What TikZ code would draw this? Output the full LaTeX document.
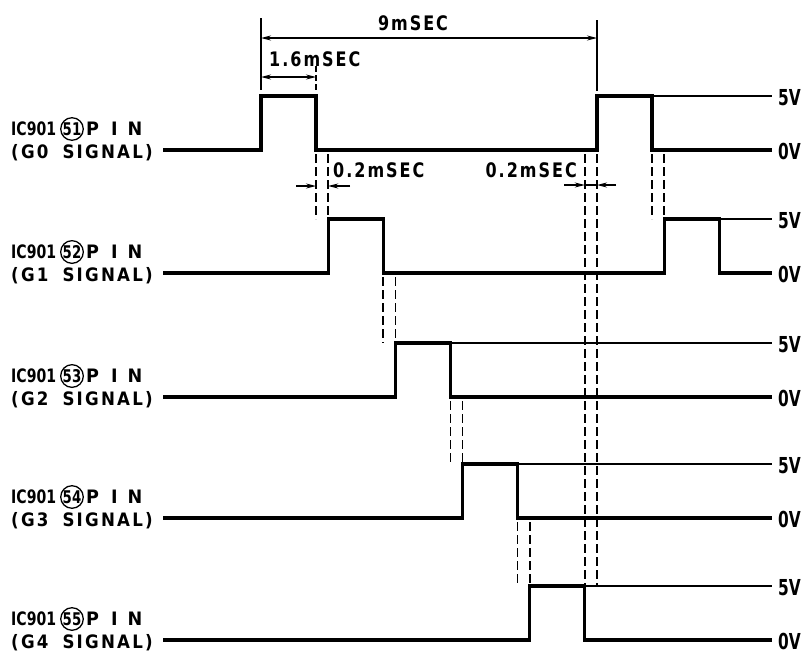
\documentclass[tikz,border=0pt]{standalone}
\usepackage{fontspec}
\setmainfont{DejaVu Sans}
\newfontfamily\lblfont[FakeStretch=0.9,LetterSpace=12]{DejaVu Sans Bold}
\newfontfamily\dimfont[FakeStretch=0.8,LetterSpace=10]{DejaVu Sans Bold}
\newfontfamily\icfont[FakeStretch=0.76]{DejaVu Sans Bold}
\newfontfamily\pinfont[FakeStretch=0.95]{DejaVu Sans Bold}
\newfontfamily\voltfont[FakeStretch=0.7]{DejaVu Sans Bold}
\usetikzlibrary{arrows.meta}
\begin{document}
\begin{tikzpicture}[x=1pt,y=-1pt,
  wave/.style={line width=3.2pt, line join=miter},
  reflevel/.style={line width=1.2pt},
  guide/.style={line width=1.5pt, dash pattern=on 9pt off 4pt},
  extline/.style={line width=1.3pt},
  dimarrow/.style={line width=1.3pt, {Stealth[length=10pt,width=5pt]}-{Stealth[length=10pt,width=5pt]}},
  onearrow/.style={line width=1.3pt, -{Stealth[length=10pt,width=5pt]}},
  txt/.style={font=\dimfont\fontsize{20}{22}\selectfont, inner sep=0pt},
  sigtxt/.style={font=\lblfont\fontsize{18.5}{20}\selectfont, inner sep=0pt, anchor=west},
  ictxt/.style={font=\icfont\fontsize{18.5}{20}\selectfont, inner sep=0pt, anchor=west},
  pintxt/.style={font=\pinfont\fontsize{18.5}{20}\selectfont, inner sep=0pt, anchor=west},
  pinc/.style={circle, draw, line width=1.3pt, minimum size=22pt, inner sep=0pt,
    font=\icfont\fontsize{17.5}{17.5}\selectfont},
  volt/.style={font=\voltfont\fontsize{22}{24}\selectfont, inner sep=0pt, anchor=west}
]
\useasboundingbox (0,0) rectangle (811,664);

% ---------- waveforms ----------
% G0
\draw[wave] (163,150) -- (261,150) -- (261,96) -- (316,96) -- (316,150)
  -- (597,150) -- (597,96) -- (652,96) -- (652,150) -- (772,150);
\draw[reflevel] (652,96) -- (772,96);
% G1
\draw[wave] (163,273) -- (328.2,273) -- (328.2,219) -- (383.2,219) -- (383.2,273)
  -- (664.2,273) -- (664.2,219) -- (719.2,219) -- (719.2,273) -- (772,273);
\draw[reflevel] (719.2,219) -- (772,219);
% G2
\draw[wave] (163,397) -- (395.4,397) -- (395.4,343) -- (450.4,343) -- (450.4,397) -- (772,397);
\draw[reflevel] (450.4,343) -- (772,343);
% G3
\draw[wave] (163,518) -- (462.6,518) -- (462.6,464) -- (517.6,464) -- (517.6,518) -- (772,518);
\draw[reflevel] (517.6,464) -- (772,464);
% G4
\draw[wave] (163,640) -- (529.8,640) -- (529.8,586) -- (584.8,586) -- (584.8,640) -- (772,640);
\draw[reflevel] (584.8,586) -- (772,586);

% ---------- voltage labels ----------
\foreach \b/\h/\k in {150/96/0, 273/219/1, 397/343/2, 518/464/3, 640/586/4}{
  \node[volt] (v5-\k) at (778,\h+2) {5V};
  \node[volt] (v0-\k) at (778,\b+1) {0V};
}

% ---------- signal names ----------
\foreach \b/\n/\g in {150/51/G0, 273/52/G1, 397/53/G2, 518/54/G3, 640/55/G4}{
  \node[ictxt] (ic-\n) at (11,\b-21) {IC901};
  \node[pinc] (pc-\n) at (72,\b-21) {\n};
  \node[pintxt] (pin-\n) at (86,\b-21) {P\hspace{12pt}I\hspace{10pt}N};
  \node[sigtxt] (sig-\n) at (11,\b+3) {(\g\ \hspace{6pt}SIGNAL)};
}

% ---------- guide (dashed) lines ----------
\draw[guide] (316,154) -- (316,219);
\draw[guide] (328.2,154) -- (328.2,219);
\draw[guide] (383.2,277) -- (383.2,343);
\draw[guide] (395.4,277) -- (395.4,343);
\draw[guide] (450.4,401) -- (450.4,464);
\draw[guide] (462.6,401) -- (462.6,464);
\draw[guide] (517.6,522) -- (517.6,586);
\draw[guide] (529.8,522) -- (529.8,586);
\draw[guide] (584.8,154) -- (584.8,586);
\draw[guide] (597,154) -- (597,586);
\draw[guide] (652,154) -- (652,219);
\draw[guide] (664.2,154) -- (664.2,219);

% ---------- dimensions ----------
\coordinate (e1t) at (261,18);  \coordinate (e1b) at (261,90);
\coordinate (e2t) at (597,20);  \coordinate (e2b) at (597,91);
\coordinate (e3t) at (316,66);  \coordinate (e3b) at (316,92);
\draw[extline] (e1t) -- (e1b);
\draw[extline] (e2t) -- (e2b);
\draw[extline, dash pattern=on 6pt off 3pt] (e3t) -- (e3b);

\coordinate (d9a) at (261,38); \coordinate (d9b) at (597,38);
\draw[dimarrow] (d9a) -- (d9b);
\node[txt] (t9) at (413,23) {9mSEC};

\coordinate (d16a) at (261,77); \coordinate (d16b) at (316,77);
\draw[dimarrow] (d16a) -- (d16b);
\node[txt, anchor=west] (t16) at (269,59) {1.6mSEC};

\coordinate (a1s) at (296,186); \coordinate (a1e) at (316,186);
\coordinate (a2s) at (350,186); \coordinate (a2e) at (328.2,186);
\draw[onearrow] (a1s) -- (a1e);
\draw[onearrow] (a2s) -- (a2e);
\node[txt, anchor=west] (t02a) at (333,170) {0.2mSEC};

\coordinate (b1s) at (564,185); \coordinate (b1e) at (584.8,185);
\coordinate (b2s) at (616,185); \coordinate (b2e) at (597,185);
\draw[onearrow] (b1s) -- (b1e);
\draw[onearrow] (b2s) -- (b2e);
\draw[line width=1.3pt] (b1e) -- (b2e);
\node[txt, anchor=east] (t02b) at (577,170) {0.2mSEC};
\end{tikzpicture}
\end{document}
